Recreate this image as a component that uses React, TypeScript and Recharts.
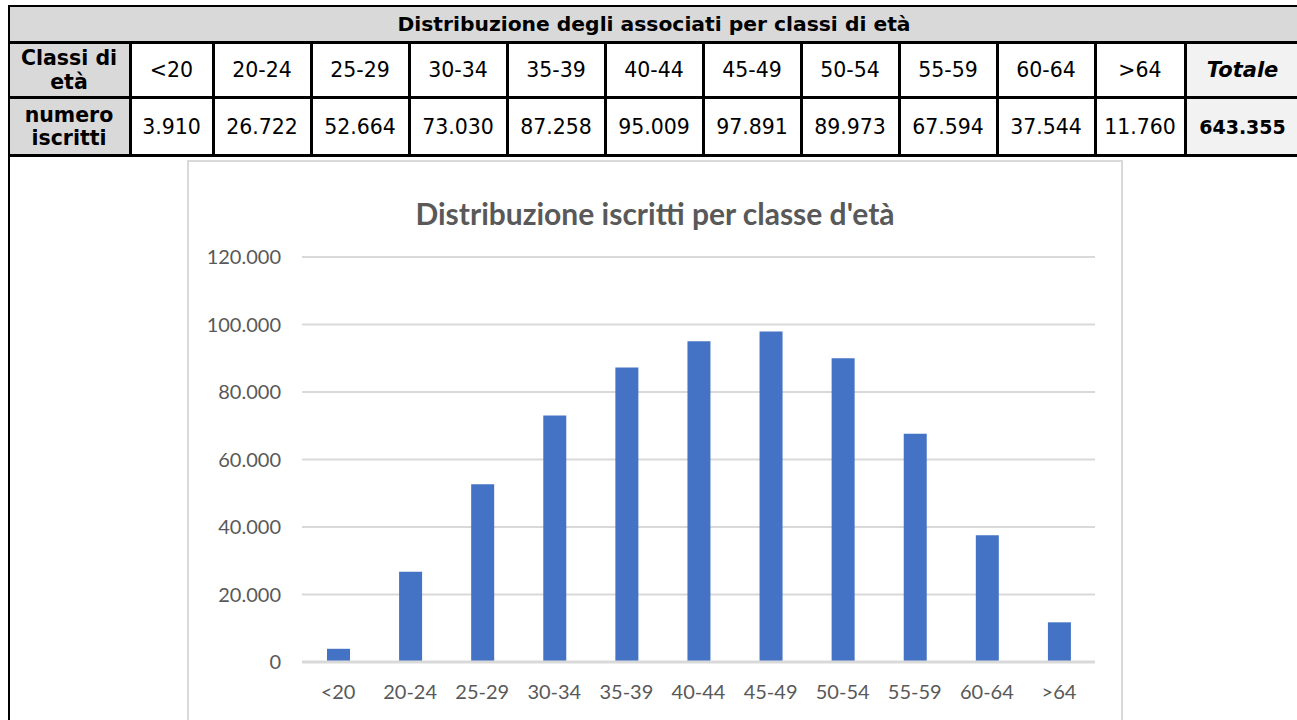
import React from 'react';
import { BarChart, Bar, XAxis, YAxis, CartesianGrid } from 'recharts';

const categories = ['<20', '20-24', '25-29', '30-34', '35-39', '40-44', '45-49', '50-54', '55-59', '60-64', '>64'];
const iscritti = [3910, 26722, 52664, 73030, 87258, 95009, 97891, 89973, 67594, 37544, 11760];
const yTicks = [0, 20000, 40000, 60000, 80000, 100000, 120000];

const tableTitle = 'Distribuzione degli associati per classi di età';
const chartTitle = "Distribuzione iscritti per classe d'età";
const rowLabel1 = ['Classi di', 'età'];
const rowLabel2 = ['numero', 'iscritti'];
const totalLabel = 'Totale';

const fmt = (v: number) => String(v).replace(/\B(?=(\d{3})+(?!\d))/g, '.');

const data = categories.map((c, i) => ({ cat: c, value: iscritti[i] }));
const total = iscritti.reduce((a, b) => a + b, 0);

// layout
const colX = [8, 130, 213, 311, 409, 507, 605, 703, 801, 899, 997, 1095, 1185, 1300];
const TABLE_FONT = '"DejaVu Sans", Verdana, sans-serif';
const CHART_FONT = 'Lato, "Open Sans", sans-serif';

function Cell({ x0, x1, y0, y1, children, style }: any) {
  return (
    <div
      style={{
        position: 'absolute',
        left: x0,
        top: y0,
        width: x1 - x0,
        height: y1 - y0,
        display: 'flex',
        alignItems: 'center',
        justifyContent: 'center',
        textAlign: 'center',
        fontFamily: TABLE_FONT,
        fontSize: 20.5,
        color: '#000',
        ...style,
      }}
    >
      {children}
    </div>
  );
}

export default function App() {
  const lines: React.ReactNode[] = [];
  lines.push(<div key="h0" style={{ position: 'absolute', left: 8, top: 5, width: 1300, height: 2, background: '#000' }} />);
  [41, 96, 154].forEach((y, i) =>
    lines.push(<div key={'h' + (i + 1)} style={{ position: 'absolute', left: 8, top: y, width: 1300, height: 3, background: '#000' }} />)
  );
  lines.push(<div key="vl" style={{ position: 'absolute', left: 8, top: 5, width: 2, height: 720, background: '#000' }} />);
  colX.slice(1, colX.length - 1).forEach((x, i) =>
    lines.push(<div key={'v' + i} style={{ position: 'absolute', left: x - 1, top: 41, width: 3, height: 116, background: '#000' }} />)
  );

  return (
    <div style={{ position: 'absolute', left: 0, top: 0, width: 1297, height: 720, overflow: 'hidden', background: '#fff' }}>
      <div style={{ position: 'absolute', left: 8, top: 5, width: 1300, height: 38, background: '#d9d9d9' }} />
      <div style={{ position: 'absolute', left: 8, top: 42, width: 122, height: 114, background: '#d9d9d9' }} />
      <div style={{ position: 'absolute', left: 1185, top: 42, width: 120, height: 114, background: '#f2f2f2' }} />

      <Cell x0={8} x1={1300} y0={6} y1={42} style={{ fontWeight: 'bold', fontSize: 20.3 }}>
        {tableTitle}
      </Cell>
      <Cell x0={8} x1={130} y0={43} y1={97} style={{ fontWeight: 'bold', fontSize: 20.5, lineHeight: '24px', flexDirection: 'column' }}>
        <span>{rowLabel1[0]}</span>
        <span>{rowLabel1[1]}</span>
      </Cell>
      <Cell x0={8} x1={130} y0={98} y1={155} style={{ fontWeight: 'bold', fontSize: 20.5, lineHeight: '23px', flexDirection: 'column' }}>
        <span>{rowLabel2[0]}</span>
        <span>{rowLabel2[1]}</span>
      </Cell>
      {categories.map((c, i) => (
        <Cell key={'c' + i} x0={colX[i + 1]} x1={colX[i + 2]} y0={43} y1={97}>
          {c}
        </Cell>
      ))}
      {iscritti.map((v, i) => (
        <Cell key={'n' + i} x0={colX[i + 1]} x1={colX[i + 2]} y0={98} y1={155}>
          {fmt(v)}
        </Cell>
      ))}
      <Cell x0={1185} x1={1300} y0={43} y1={97} style={{ fontWeight: 'bold', fontStyle: 'italic', fontSize: 21, paddingRight: 3 }}>
        {totalLabel}
      </Cell>
      <Cell x0={1185} x1={1300} y0={98} y1={155} style={{ fontWeight: 'bold', fontSize: 19, paddingRight: 3 }}>
        {fmt(total)}
      </Cell>
      {lines}

      <div
        style={{
          position: 'absolute',
          left: 187,
          top: 160,
          width: 932,
          height: 600,
          border: '2px solid #d9d9d9',
          background: '#fff',
        }}
      />
      <div
        style={{
          position: 'absolute',
          left: 189,
          top: 198,
          width: 932,
          textAlign: 'center',
          fontFamily: CHART_FONT,
          fontWeight: 700,
          fontSize: 30,
          lineHeight: '30px',
          color: '#595959',
        }}
      >
        {chartTitle}
      </div>
      <div style={{ position: 'absolute', left: 188, top: 161 }}>
        <BarChart width={935} height={559} data={data} margin={{ top: 96, right: 28, bottom: 0, left: 0 }}>
          <CartesianGrid vertical={false} stroke="#d9d9d9" strokeWidth={2} />
          <XAxis
            dataKey="cat"
            height={58}
            axisLine={{ stroke: '#d9d9d9', strokeWidth: 3 }}
            tickLine={false}
            tickSize={0}
            tickMargin={23}
            interval={0}
            tick={{ fill: '#595959', fontSize: 20, fontFamily: CHART_FONT }}
          />
          <YAxis
            width={114}
            domain={[0, 120000]}
            ticks={yTicks}
            axisLine={false}
            tickLine={false}
            tickSize={0}
            tickMargin={21}
            tickFormatter={fmt}
            tick={{ fill: '#595959', fontSize: 20, fontFamily: CHART_FONT }}
          />
          <Bar dataKey="value" fill="#4472c4" barSize={23} isAnimationActive={false} />
        </BarChart>
      </div>
    </div>
  );
}
